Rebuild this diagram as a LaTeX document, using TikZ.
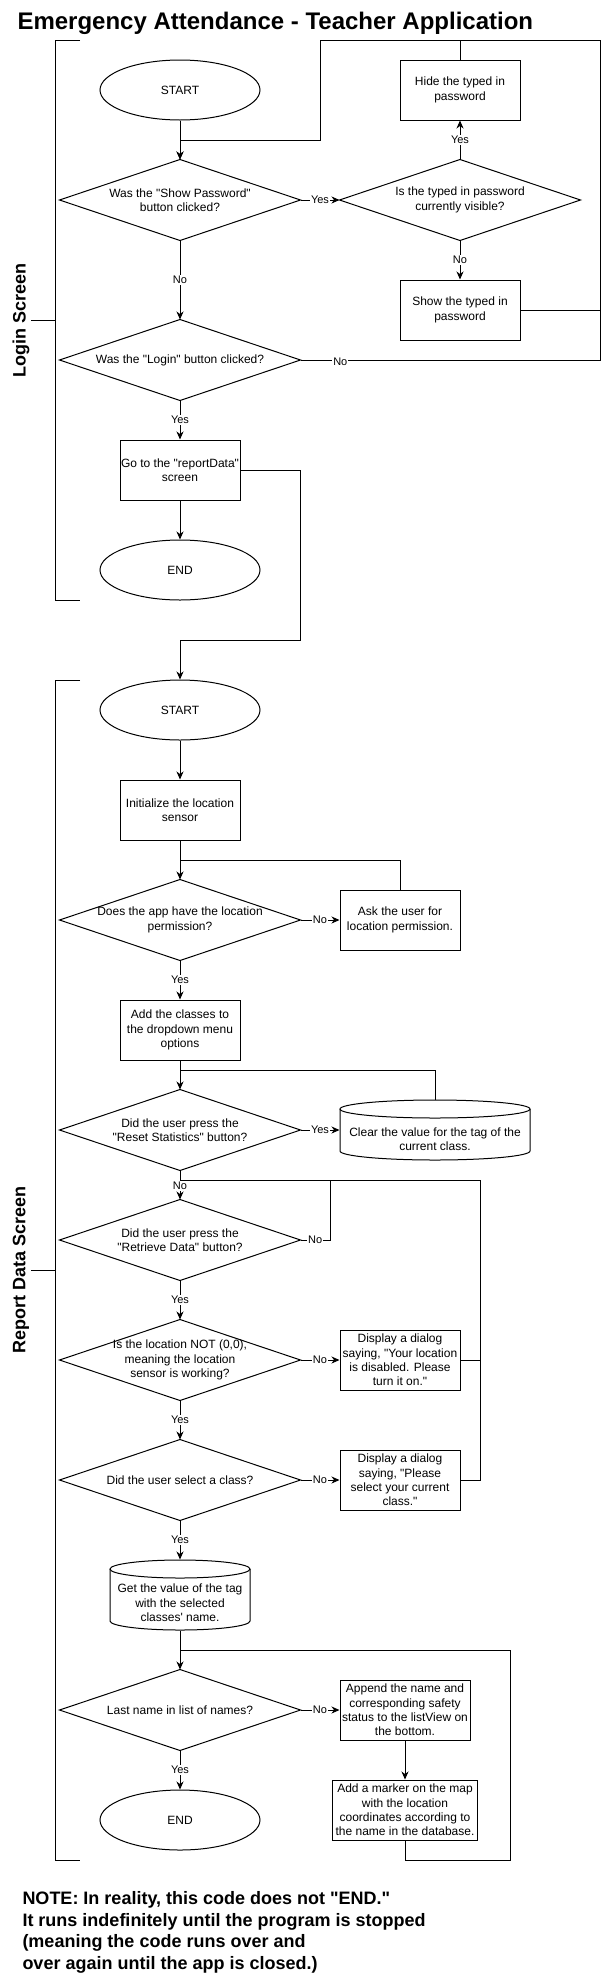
\documentclass[tikz,border=0pt]{standalone}
\usepackage{fontspec}
\setmainfont{Liberation Sans}
\usetikzlibrary{arrows.meta,shapes.geometric}
\newcommand\fcNode{\fontsize{12}{14.4}\selectfont}
\newcommand\fcLab{\fontsize{11}{13}\selectfont}
\newcommand\fcTitle{\fontsize{24}{28}\selectfont\bfseries}
\newcommand\fcNote{\fontsize{18}{21.7}\selectfont\bfseries}
\newcommand\fcSide{\fontsize{18}{21.6}\selectfont\bfseries}
\newcommand\qd{\textquotedbl}
\newcommand\drawcyl[5]{%
  \draw ({(#1+#2)/2},{#3+#5}) ellipse [x radius={(#2-#1)/2}, y radius=#5];
  \draw (#1,{#3+#5}) -- (#1,{#4-#5}) arc[start angle=180,end angle=0,x radius={(#2-#1)/2},y radius=#5] -- (#2,{#3+#5});}
\begin{document}
\begin{tikzpicture}[x=1pt,y=-1pt,line width=1pt,
  >={Stealth[length=8pt,width=7pt,inset=2.5pt]},
  box/.style={draw,rectangle,minimum width=120pt,minimum height=60pt,inner sep=0pt,align=center,font=\fcNode},
  term/.style={draw,ellipse,minimum width=160pt,minimum height=60pt,inner sep=0pt,font=\fcNode},
  decision/.style={rectangle,minimum width=240pt,minimum height=80pt,inner sep=0pt,align=center,font=\fcNode},
  cylbox/.style={rectangle,inner sep=0pt},
  cyltext/.style={inner sep=0pt,align=center,font=\fcNode},
  lab/.style={fill=white,inner sep=1pt,font=\fcLab},
  flow/.style={->},
  side/.style={rotate=90,font=\fcSide,inner sep=0pt}]
\useasboundingbox (0,0) rectangle (609,1981);

% title
\node[anchor=base west,font=\fcTitle,inner sep=0pt] (title) at (17,29.5) {Emergency Attendance - Teacher Application};

% brackets
\draw (80,40) -- (55,40) -- (55,600) -- (80,600);
\draw (31,320) -- (55,320);
\node[side] (lbl1) at (21,320) {Login Screen};
\draw (80,680) -- (55,680) -- (55,1860) -- (80,1860);
\draw (31,1270) -- (55,1270);
\node[side] (lbl2) at (21,1270) {Report Data Screen};

% login screen nodes
\node[term] (s1) at (180,90) {START};
\node[decision] (d1) at (180,200) {Was the \qd Show Password\qd\\button clicked?};
\node[decision] (q) at (460,200) {Is the typed in password\\currently visible?};
\node[box] (hide) at (460,90) {Hide the typed in\\password};
\node[box] (show) at (460,310) {Show the typed in\\password};
\node[decision] (lg) at (180,360) {Was the \qd Login\qd\ button clicked?};
\node[box] (go) at (180,470) {Go to the \qd reportData\qd\\screen};
\node[term] (e1) at (180,570) {END};

% report data screen nodes
\node[term] (s2) at (180,710) {START};
\node[box] (init) at (180,810) {Initialize the location\\sensor};
\node[decision] (perm) at (180,920) {Does the app have the location\\permission?};
\node[box] (ask) at (400,920) {Ask the user for\\location permission.};
\node[box] (add) at (180,1030) {Add the classes to\\the dropdown menu\\options};
\node[decision] (reset) at (180,1130) {Did the user press the\\\qd Reset Statistics\qd\ button?};
\node[cylbox,minimum width=190pt,minimum height=60pt] (clr) at (435,1130) {};
\node[cyltext] (clrt) at (435,1139) {Clear the value for the tag of the\\current class.};
\node[decision] (retr) at (180,1240) {Did the user press the\\\qd Retrieve Data\qd\ button?};
\node[decision] (notd) at (180,1360) {Is the location NOT (0,0),\\meaning the location\\sensor is working?};
\node[box] (dlg1) at (400,1360) {Display a dialog\\saying, \qd Your location\\is disabled. Please\\turn it on.\qd};
\node[decision] (sel) at (180,1480) {Did the user select a class?};
\node[box] (dlg2) at (400,1480) {Display a dialog\\saying, \qd Please\\select your current\\class.\qd};
\node[cylbox,minimum width=140pt,minimum height=70pt] (get) at (180,1595) {};
\node[cyltext] (gett) at (180,1603) {Get the value of the tag\\with the selected\\classes\textquotesingle\ name.};
\node[decision] (last) at (180,1710) {Last name in list of names?};
\node[box,minimum width=130pt] (app) at (405,1710) {Append the name and\\corresponding safety\\status to the listView on\\the bottom.};
\node[box,minimum width=145pt] (mark) at (405,1810) {Add a marker on the map\\with the location\\coordinates according to\\the name in the database.};
\node[term] (e2) at (180,1820) {END};

% diamond outlines
\foreach \n in {d1,q,lg,perm,reset,retr,notd,sel,last}
  \draw (\n.north) -- (\n.east) -- (\n.south) -- (\n.west) -- cycle;

% cylinder outlines
\drawcyl{340}{530}{1100}{1160}{9}
\drawcyl{110}{250}{1560}{1630}{9}

% junction coordinates
\coordinate (jA) at (600,310);
\coordinate (jB) at (460,40);
\coordinate (jC) at (180,860);
\coordinate (jD) at (180,1070);
\coordinate (jE) at (180,1180);
\coordinate (jF) at (480,1360);
\coordinate (jG) at (180,1650);

% login connectors
\draw[flow] (s1) -- (d1);
\draw[flow] (lg.east) -- node[lab,pos=0.133,yshift=-2pt]{No} (600,360) -- (600,40) -- (320,40) -- (320,140) -| (d1.north);
\draw[flow] (d1.east) -- node[lab]{Yes} (q.west);
\draw[flow] (q.north) -- node[lab]{Yes} (hide.south);
\draw (hide.north) -- (jB);
\draw[flow] (q.south) -- node[lab]{No} (show.north);
\draw (show.east) -- (jA);
\draw[flow] (d1.south) -- node[lab]{No} (lg.north);
\draw[flow] (lg.south) -- node[lab]{Yes} (go.north);
\draw[flow] (go.south) -- (e1.north);
\draw[flow] (go.east) -- (300,470) -- (300,640) -| (s2.north);

% report connectors
\draw[flow] (s2.south) -- (init.north);
\draw[flow] (init.south) -- (perm.north);
\draw[flow] (perm.east) -- node[lab]{No} (ask.west);
\draw (ask.north) |- (jC);
\draw[flow] (perm.south) -- node[lab]{Yes} (add.north);
\draw[flow] (add.south) -- (reset.north);
\draw (clr.north) |- (jD);
\draw[flow] (reset.east) -- node[lab]{Yes} (clr.west);
\draw (retr.east) -- node[lab]{No} (330,1240) -- (330,1180) -- (jE);
\draw (dlg1.east) -- (jF);
\draw (dlg2.east) -| (480,1180) -- (jE);
\draw[flow] (reset.south) -- node[lab,pos=0.53]{No} (retr.north);
\draw[flow] (retr.south) -- node[lab]{Yes} (notd.north);
\draw[flow] (notd.east) -- node[lab]{No} (dlg1.west);
\draw[flow] (notd.south) -- node[lab]{Yes} (sel.north);
\draw[flow] (sel.east) -- node[lab]{No} (dlg2.west);
\draw[flow] (sel.south) -- node[lab]{Yes} (get.north);
\draw[flow] (get.south) -- (last.north);
\draw[flow] (last.east) -- node[lab]{No} (app.west);
\draw[flow] (app.south) -- (mark.north);
\draw (mark.south) |- (510,1860) |- (jG);
\draw[flow] (last.south) -- node[lab]{Yes} (e2.north);

% note
\node[anchor=north west,align=left,font=\fcNote,inner sep=0pt] (note) at (22,1891) {NOTE: In reality, this code does not \qd END.\qd\\It runs indefinitely until the program is stopped\\(meaning the code runs over and\\over again until the app is closed.)};
\end{tikzpicture}
\end{document}
